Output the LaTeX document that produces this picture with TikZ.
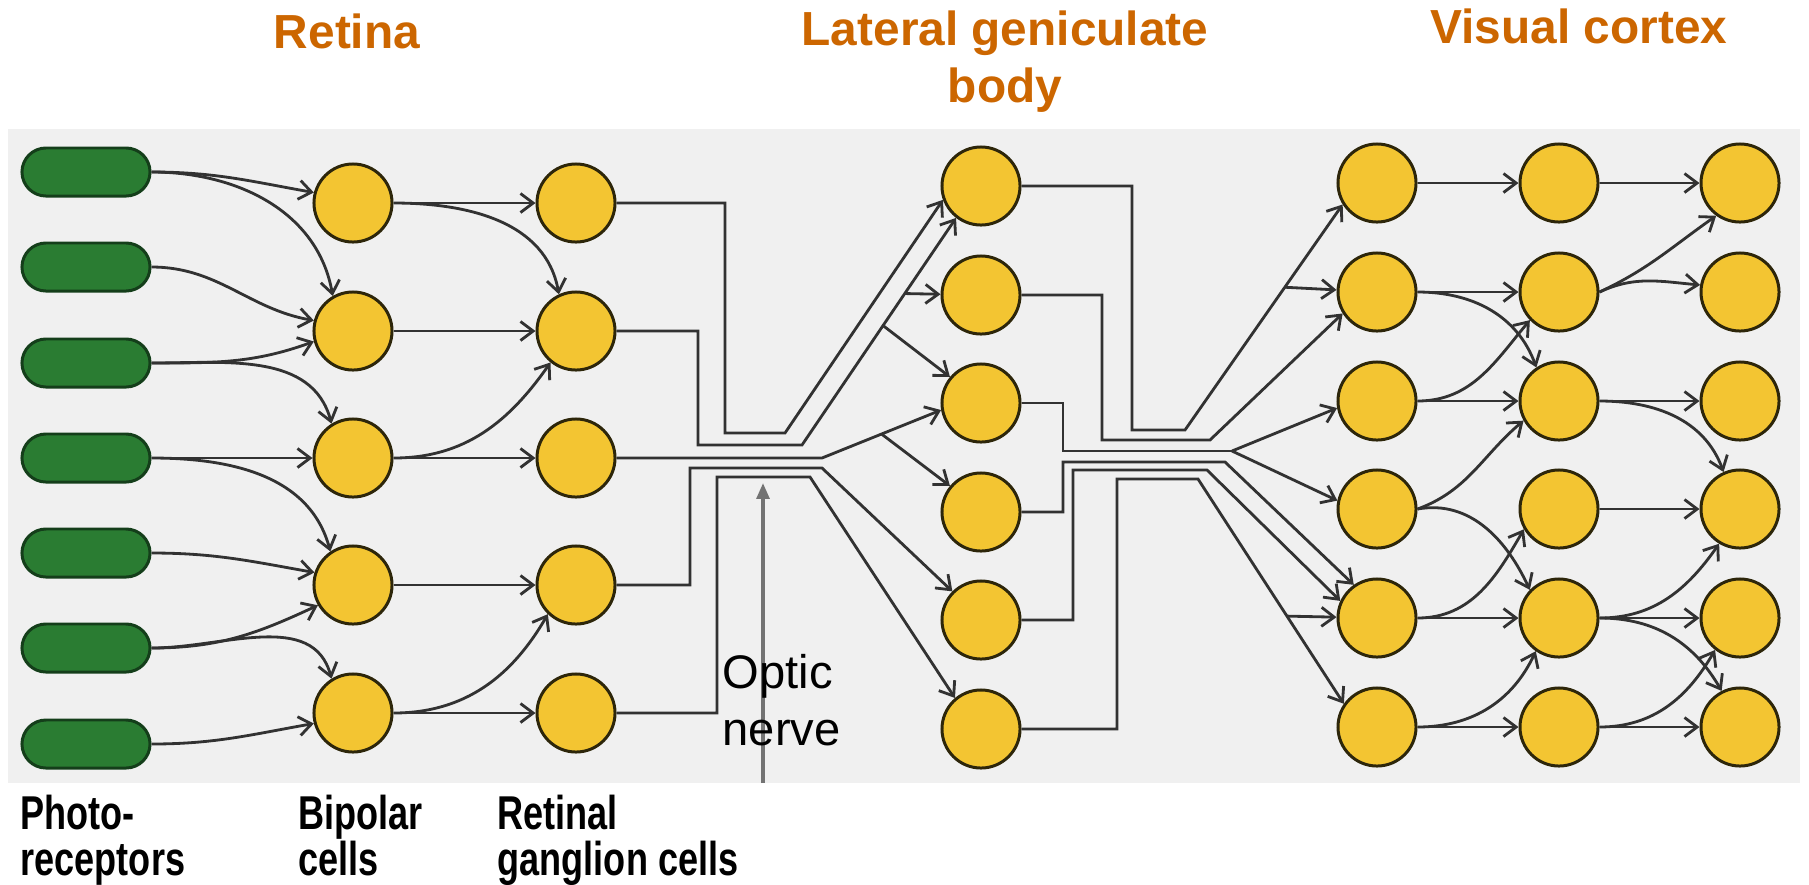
\documentclass[tikz,border=0pt]{standalone}
\usepackage{fontspec}
\setmainfont{Liberation Sans}
\newfontfamily\narrowsf[FakeStretch=0.76]{Liberation Sans}
\usetikzlibrary{arrows.meta,calc}
\definecolor{hdr}{RGB}{204,102,0}
\definecolor{cellfill}{RGB}{243,197,50}
\definecolor{celldraw}{RGB}{45,38,10}
\definecolor{rodfill}{RGB}{42,124,50}
\definecolor{roddraw}{RGB}{20,62,26}
\definecolor{panel}{RGB}{240,240,240}
\definecolor{wirec}{RGB}{50,50,50}
\begin{document}
\begin{tikzpicture}[x=0.01cm,y=-0.01cm,
  cell/.style={circle,draw=celldraw,fill=cellfill,line width=0.85pt,minimum size=0.78cm,inner sep=0pt},
  rod/.style={rectangle,rounded corners=0.24cm,draw=roddraw,fill=rodfill,line width=0.85pt,minimum width=1.28cm,minimum height=0.48cm,inner sep=0pt},
  syn/.style={draw=wirec,line width=0.8pt,-{Straight Barb[length=3.6pt,width=5.4pt]}},
  wire/.style={draw=wirec,line width=0.8pt},
  optic/.style={draw=black!55,line width=1pt,-{Triangle[length=4.5pt,width=3.6pt]}},
  hd/.style={text=hdr,font=\fontsize{13.6}{16.2}\selectfont\bfseries,anchor=base,inner sep=0pt},
  bl/.style={font=\narrowsf\bfseries\fontsize{13.5}{12.9}\selectfont,align=left,anchor=south west,text depth=0pt,inner sep=0pt},
  on/.style={font=\fontsize{13.4}{16.2}\selectfont,anchor=base west,inner sep=0pt}
]
\useasboundingbox (0,0) rectangle (1809,884);
\fill[panel] (8,129) rectangle (1800,783);

% headers
\node[hd] (hRet) at (347,48) {Retina};
\node[hd] (hLgnA) at (1005,45) {Lateral geniculate};
\node[hd] (hLgnB) at (1005,102) {body};
\node[hd] (hVc) at (1579,43) {Visual cortex};

% bottom labels
\node[bl] (lP) at (20,876) {Photo-\\receptors};
\node[bl] (lB) at (298,876) {Bipolar\\cells};
\node[bl] (lG) at (497,876) {Retinal\\ganglion cells};

% optic nerve pointer
\coordinate (nerveFoot) at (763,783);
\coordinate (nerveTip) at (763,483);
\draw[optic] (nerveFoot) -- (nerveTip);
\node[on] (onA) at (722,688) {Optic};
\node[on] (onB) at (722,745) {nerve};

% cells
\foreach \i/\y in {1/172,2/267,3/363,4/458,5/553,6/648,7/744}
  \node[rod] (P\i) at (86,\y) {};
\foreach \i/\y in {1/203,2/331,3/458,4/585,5/713}{
  \node[cell] (B\i) at (353,\y) {};
  \node[cell] (G\i) at (576,\y) {};}
\foreach \i/\y in {1/186,2/295,3/403,4/512,5/620,6/729}
  \node[cell] (L\i) at (981,\y) {};
\foreach \i/\y in {1/183,2/292,3/401,4/509,5/618,6/727}{
  \node[cell] (A\i) at (1377,\y) {};
  \node[cell] (D\i) at (1559,\y) {};
  \node[cell] (C\i) at (1740,\y) {};}

% photoreceptors -> bipolar
\draw[syn] (P1.east) to[out=0,in=170] (B1.165);
\draw[syn] (P1.east) to[out=0,in=100] (B2.120);
\draw[syn] (P2.east) to[out=0,in=170] (B2.165);
\draw[syn] (P3.east) to[out=0,in=200] (B2.195);
\draw[syn] (P3.east) to[out=0,in=105] (B3.122);
\draw[syn] (P4.east) -- (B3.west);
\draw[syn] (P4.east) to[out=0,in=105] (B4.124);
\draw[syn] (P5.east) to[out=0,in=170] (B4.162);
\draw[syn] (P6.east) to[out=0,in=205] (B4.210);
\draw[syn] (P6.east) to[out=0,in=105] (B5.122);
\draw[syn] (P7.east) to[out=0,in=190] (B5.195);

% bipolar -> ganglion
\draw[syn] (B1) -- (G1);
\draw[syn] (B1.east) to[out=0,in=100] (G2.115);
\draw[syn] (B2) -- (G2);
\draw[syn] (B3) -- (G3);
\draw[syn] (B3.east) to[out=0,in=235] (G2.231);
\draw[syn] (B4) -- (G4);
\draw[syn] (B5) -- (G5);
\draw[syn] (B5.east) to[out=0,in=240] (G4.226);

% ganglion -> LGN (optic nerve)
\draw[syn] (G1.east) -| (725,433) -- (785,433) -- (L1.200);
\draw[syn] (G2.east) -| (698,445) -- (802,445) coordinate (g2d) -- (L1.232);
\coordinate (k1) at ($(g2d)!0.667!(L1.232)$);
\coordinate (k2) at ($(g2d)!0.526!(L1.232)$);
\draw[syn] (k1) -- (L2);
\draw[syn] (k2) -- (L3.140);
\draw[syn] (G3.east) -- (822,458) coordinate (g3d) -- (L3.190);
\coordinate (k3) at ($(g3d)!0.5!(L3.190)$);
\draw[syn] (k3) -- (L4.140);
\draw[syn] (G4.east) -| (690,468) -- (822,468) -- (L5.135);
\draw[syn] (G5.east) -| (717,477) -- (810,477) -- (L6.130);

% LGN -> visual cortex
\draw[syn] (L1.east) -| (1132,430) -- (1185,430) coordinate (h1) -- (A1.212);
\coordinate (k4) at ($(h1)!0.633!(A1.212)$);
\draw[syn] (k4) -- (A2);
\draw[syn] (L2.east) -| (1102,440) -- (1210,440) -- (A2.212);
\draw[wire] (L3.east) -| (1063,451) -- (1232,451) coordinate (h3);
\draw[syn] (h3) -- (A3.190);
\draw[syn] (h3) -- (A4.168);
\draw[syn] (L4.east) -| (1063,462) -- (1225,462) -- (A5.125);
\draw[syn] (L5.east) -| (1073,470) -- (1207,470) -- (A5.155);
\draw[syn] (L6.east) -| (1117,479) -- (1198,479) coordinate (h6) -- (A6.145);
\coordinate (k5) at ($(h6)!0.61!(A6.145)$);
\draw[syn] (k5) -- (A5);

% visual cortex column 1 -> 2
\draw[syn] (A1) -- (D1);
\draw[syn] (A2) -- (D2);
\draw[syn] (A2.east) to[out=0,in=110] (D3.124);
\draw[syn] (A3) -- (D3);
\draw[syn] (A3.east) to[out=0,in=230] (D2.224);
\draw[syn] (A4.east) to[out=20,in=220] (D3.209);
\draw[syn] (A4.east) to[out=10,in=115] (D5.136);
\draw[syn] (A5) -- (D5);
\draw[syn] (A5.east) to[out=0,in=240] (D4.210);
\draw[syn] (A6) -- (D6);
\draw[syn] (A6.east) to[out=0,in=245] (D5.235);

% visual cortex column 2 -> 3
\draw[syn] (D1) -- (C1);
\draw[syn] (D2.east) to[out=25,in=215] (C1.234);
\draw[syn] (D2.east) to[out=25,in=175] (C2.170);
\draw[syn] (D3) -- (C3);
\draw[syn] (D3.east) to[out=0,in=110] (C4.114);
\draw[syn] (D4) -- (C4);
\draw[syn] (D5) -- (C5);
\draw[syn] (D5.east) to[out=0,in=235] (C4.239);
\draw[syn] (D5.east) to[out=0,in=120] (C6.117);
\draw[syn] (D6) -- (C6);
\draw[syn] (D6.east) to[out=0,in=240] (C5.232);
\end{tikzpicture}
\end{document}
